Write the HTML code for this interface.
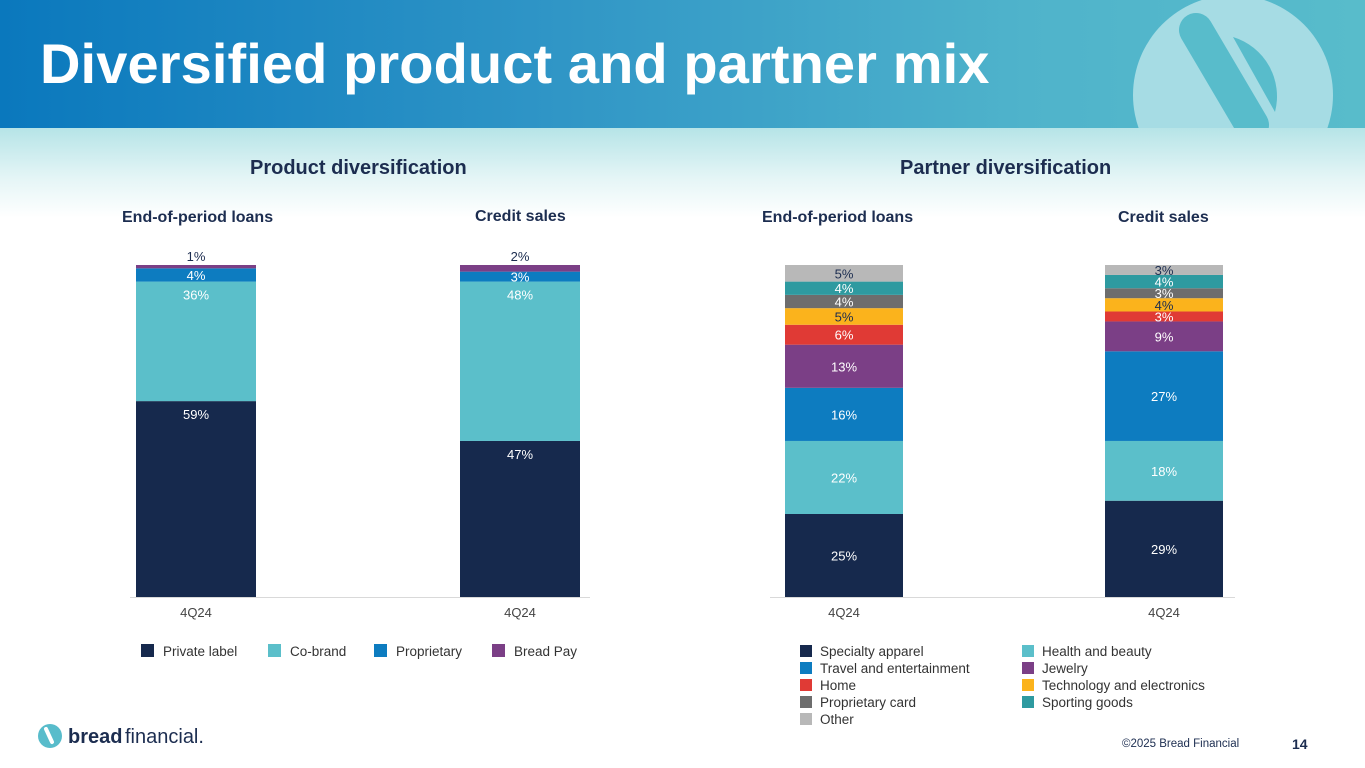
<!DOCTYPE html>
<html><head><meta charset="utf-8"><style>
body{margin:0;width:1365px;height:768px;overflow:hidden;background:#fff;font-family:"Liberation Sans",Arial,sans-serif;position:relative}
.hdr{position:absolute;left:0;top:0;width:1365px;height:128px;background:linear-gradient(90deg,#0a78bd 0%,#2f95c6 40%,#4fb3cb 75%,#58bccb 100%)}
.band{position:absolute;left:0;top:128px;width:1365px;height:90px;background:linear-gradient(180deg,#b6e4e7 0%,#e4f5f6 55%,#fff 100%)}
h1{position:absolute;left:40px;top:31px;margin:0;font-size:56px;color:#fff;font-weight:bold;letter-spacing:0.1px}
.t{position:absolute;font-weight:bold;color:#1c2d50;white-space:nowrap}
.foot{position:absolute;top:738px;font-size:11.5px;color:#1c2d50}
</style></head><body>
<div class="hdr"></div>
<svg style="position:absolute;left:0;top:0" width="1365" height="128">
<circle cx="1233" cy="95" r="100" fill="#a6dce4"/>
<line x1="1196" y1="30" x2="1252" y2="125" stroke="#58bccb" stroke-width="34" stroke-linecap="round"/>
<path d="M1233 37 A62 62 0 0 1 1275 112 Z" fill="#58bccb"/>
</svg>
<div class="band"></div>
<h1>Diversified product and partner mix</h1>
<div class="t" style="left:250px;top:157px;font-size:20px">Product diversification</div>
<div class="t" style="left:900px;top:157px;font-size:20px">Partner diversification</div>
<div class="t" style="left:122px;top:209px;font-size:16px">End-of-period loans</div>
<div class="t" style="left:475px;top:208px;font-size:16px">Credit sales</div>
<div class="t" style="left:762px;top:209px;font-size:16px">End-of-period loans</div>
<div class="t" style="left:1118px;top:209px;font-size:16px">Credit sales</div>
<svg id="c" style="position:absolute;left:0;top:0" width="1365" height="768"></svg>
<svg style="position:absolute;left:38px;top:722px" width="180" height="28">
<circle cx="12" cy="14" r="12" fill="#58bccb"/><line x1="8" y1="7" x2="14" y2="20" stroke="#fff" stroke-width="4" stroke-linecap="round"/>
<text x="30" y="21" font-size="20" font-weight="bold" fill="#1c2d50" font-family="Liberation Sans">bread</text>
<text x="87" y="21" font-size="20" fill="#1c2d50" font-family="Liberation Sans">financial.</text>
</svg>
<div class="foot" style="left:1122px">©2025 Bread Financial</div>
<div class="foot" style="left:1292px;font-weight:bold;font-size:14px;top:736px">14</div>
<script>
const prodSeries=["Private label","Co-brand","Proprietary","Bread Pay"];
const prodColors=["#16294d","#5bbfca","#0d7cc0","#7b3f86"];
const prodLoans=[59,36,4,1];
const prodSales=[47,48,3,2];
const partSeries=["Specialty apparel","Health and beauty","Travel and entertainment","Jewelry","Home","Technology and electronics","Proprietary card","Sporting goods","Other"];
const partColors=["#16294d","#5bbfca","#0d7cc0","#7b3f86","#e03a35","#fbb31c","#6d6d6d","#2e9aa0","#b8b8b8"];
const partLoans=[25,22,16,13,6,5,4,4,5];
const partSales=[29,18,27,9,3,4,3,4,3];
const categories=["4Q24","4Q24"];
const svg=document.getElementById('c');const NS='http://www.w3.org/2000/svg';
const base=597,top0=265;
function y(v){return base-(base-top0)*v/100;}
function mk(t,a){const e=document.createElementNS(NS,t);for(const k in a)e.setAttribute(k,a[k]);svg.appendChild(e);return e;}
const dark=["#16294d","#0d7cc0","#7b3f86","#e03a35","#6d6d6d","#2e9aa0","#5bbfca"];
function bar(x,w,vals,colors,names,small,outside){
  let cum=0;
  vals.forEach((v,i)=>{
    const y1=y(cum+v),y2=y(cum);
    const r=mk('rect',{x:x,y:y1,width:w,height:y2-y1,fill:colors[i]});
    
    
    let ty=(y1+y2)/2+5,fill=dark.includes(colors[i])?'#fff':'#1c2d50';
    if(small&&i==0)ty=y1+18;
    if(small&&i==1)ty=y1+18;
    if(outside&&i==vals.length-1){ty=y1-4;fill='#1c2d50';}
    const t=mk('text',{x:x+w/2,y:ty,'text-anchor':'middle','font-size':13,fill:fill,'font-family':'Liberation Sans'});
    t.textContent=v+'%';
    
    
    cum+=v;
  });
}
bar(136,120,prodLoans,prodColors,prodSeries,true,true);
bar(460,120,prodSales,prodColors,prodSeries,true,true);
bar(785,118,partLoans,partColors,partSeries,false,false);
bar(1105,118,partSales,partColors,partSeries,false,false);
[[130,590],[770,1235]].forEach(a=>{const l=mk('line',{x1:a[0],x2:a[1],y1:base+0.5,y2:base+0.5,stroke:'#d9d9d9'});});
[196,520,844,1164].forEach((cx,i)=>{const t=mk('text',{x:cx,y:617,'text-anchor':'middle','font-size':13,fill:'#444','font-family':'Liberation Sans'});t.textContent=categories[i%2];});
const lx=[141,268,374,492];
prodSeries.forEach((s,i)=>{mk('rect',{x:lx[i],y:644,width:13,height:13,fill:prodColors[i]});const t=mk('text',{x:lx[i]+22,y:656,'font-size':13.5,fill:'#333','font-family':'Liberation Sans'});t.textContent=s;});
partSeries.forEach((s,i)=>{const col=i%2,row=Math.floor(i/2);const x=col?1022:800,yy=645+row*17;mk('rect',{x:x,y:yy,width:12,height:12,fill:partColors[i]});const t=mk('text',{x:x+20,y:yy+11,'font-size':13.5,fill:'#333','font-family':'Liberation Sans'});t.textContent=s;});
</script>
</body></html>
